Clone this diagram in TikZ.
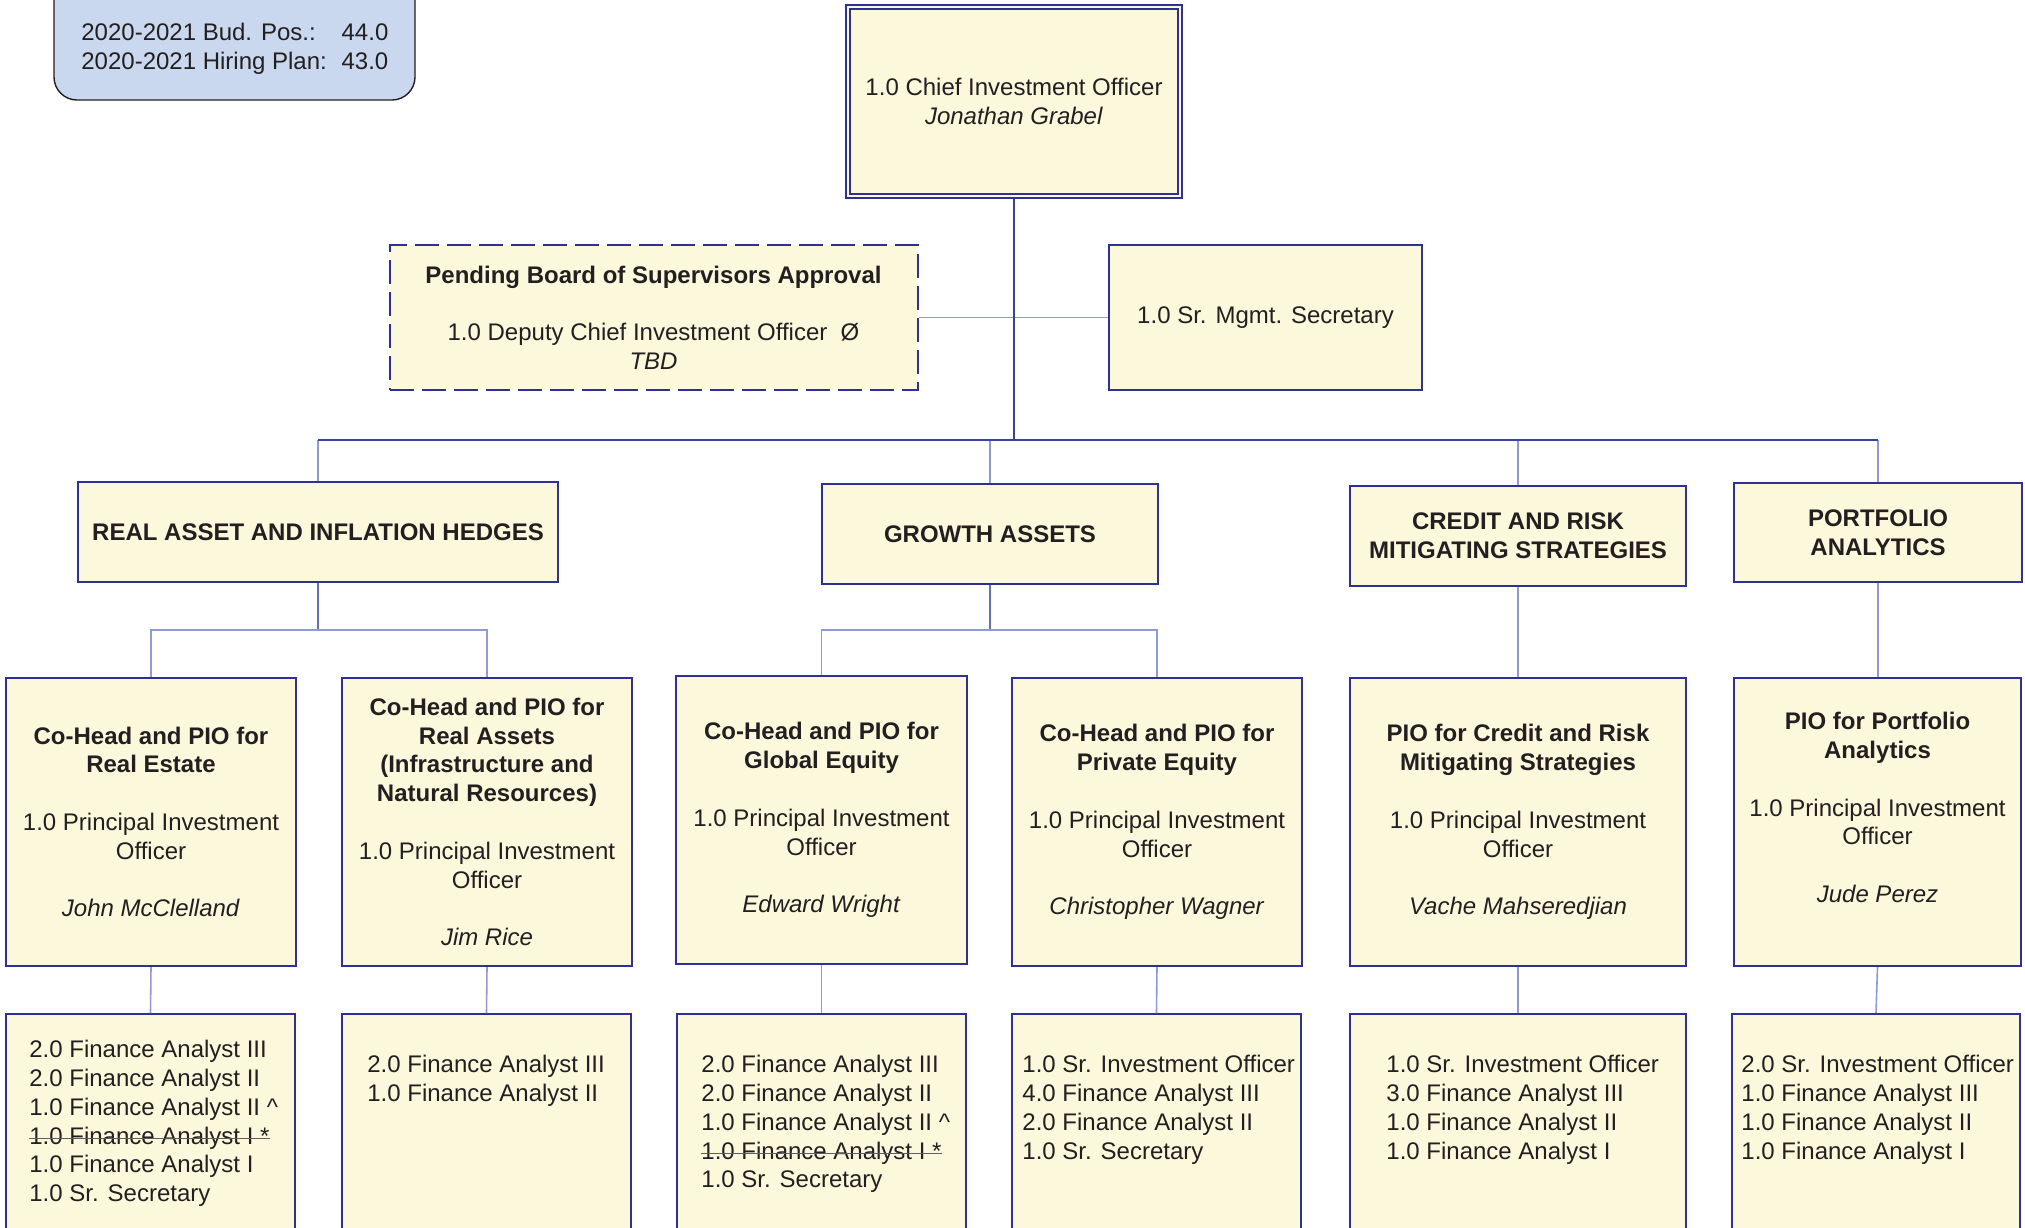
\documentclass[tikz,border=0pt]{standalone}
\usepackage{fontspec}
\setmainfont{Liberation Sans}

\definecolor{boxfill}{HTML}{FCF8DC}
\definecolor{boxline}{HTML}{2E3192}
\definecolor{linkdark}{HTML}{3A42A0}
\definecolor{linkmid}{HTML}{6670B8}
\definecolor{linklight}{HTML}{8E9AD2}
\definecolor{inkcol}{HTML}{231F20}
\definecolor{budfill}{HTML}{C9D8EF}
\definecolor{strkgray}{HTML}{5E5E5E}

% struck-through position line
\newsavebox\strikebox
\newcommand\struck[1]{\sbox\strikebox{#1}\usebox\strikebox\llap{\textcolor{strkgray}{\rule[0.4ex]{\wd\strikebox}{0.7pt}}}}

\tikzset{
  orgbox/.style={draw=boxline, line width=1pt, fill=boxfill, text=inkcol,
    align=center, inner sep=0pt, font=\fontsize{12}{14.4}\selectfont},
  pendingbox/.style={orgbox, dash pattern=on 12pt off 4pt},
  headbox/.style={orgbox, font=\fontsize{12}{14.4}\selectfont\bfseries},
  piobox/.style={orgbox, minimum height=144pt},
  staffbox/.style={orgbox, anchor=north, minimum height=140pt},
  textblock/.style={inner sep=0pt, text=inkcol, font=\fontsize{12}{14.4}\selectfont},
  stafftext/.style={textblock, anchor=base west},
  linkdk/.style={draw=linkdark, line width=0.85pt},
  linkbus/.style={draw=linkdark, line width=0.6pt},
  linkmd/.style={draw=linkmid, line width=0.8pt},
  linklt/.style={draw=linklight, line width=0.8pt},
}

\begin{document}
\begin{tikzpicture}[x=0.5pt, y=-0.5pt]
\useasboundingbox (0,0) rectangle (2025,1227);
\clip (0,0) rectangle (2025,1227);

% position summary
\node[draw=inkcol, line width=0.7pt, fill=budfill, rounded corners=11.5pt,
      minimum width=180.5pt, minimum height=70pt, inner sep=0pt] (budget) at (234.5,30) {};
\node[textblock, anchor=base west] (budtext) at (81,40.6)
  {\begin{tabular*}{153.5pt}[t]{@{}l@{\extracolsep{\fill}}r@{}}
    2020-2021 Bud. Pos.: & 44.0\\
    2020-2021 Hiring Plan: & 43.0
  \end{tabular*}};

% top level
\node[orgbox, minimum width=168pt, minimum height=96.5pt] (cio) at (1014,101.5)
  {1.0 Chief Investment Officer\\\textit{Jonathan Grabel}};
\draw[boxline, line width=0.8pt] ([shift={(2.5pt,-2.5pt)}]cio.north west)
  rectangle ([shift={(-2.5pt,2.5pt)}]cio.south east);

\node[pendingbox, minimum width=264pt, minimum height=72.5pt] (dcio) at (653.5,317.5)
  {\textbf{Pending Board of Supervisors Approval}\\[14.4pt]
   1.0 Deputy Chief Investment Officer\ \ Ø\\\textit{TBD}};
\node[orgbox, minimum width=156.5pt, minimum height=72.5pt] (sec) at (1265.5,317.5)
  {1.0 Sr. Mgmt. Secretary};

% asset classes
\node[headbox, minimum width=240pt, minimum height=50pt] (rai) at (318,532)
  {REAL ASSET AND INFLATION HEDGES};
\node[headbox, minimum width=168pt, minimum height=50pt] (gro) at (990,534)
  {GROWTH ASSETS};
\node[headbox, minimum width=168pt, minimum height=50pt] (crm) at (1518,536)
  {CREDIT AND RISK\\MITIGATING STRATEGIES};
\node[headbox, minimum width=144pt, minimum height=49.5pt] (pfa) at (1878,532.5)
  {PORTFOLIO\\ANALYTICS};

% principal investment officers
\node[piobox, minimum width=145pt] (repio) at (151,822)
  {\textbf{Co-Head and PIO for}\\\textbf{Real Estate}\\[14.4pt]
   1.0 Principal Investment\\Officer\\[14.4pt]\textit{John McClelland}};
\node[piobox, minimum width=145pt] (rapio) at (487,822)
  {\textbf{Co-Head and PIO for}\\\textbf{Real Assets}\\\textbf{(Infrastructure and}\\\textbf{Natural Resources)}\\[14.4pt]
   1.0 Principal Investment\\Officer\\[14.4pt]\textit{Jim Rice}};
\node[piobox, minimum width=145.5pt] (gepio) at (821.5,820)
  {\textbf{Co-Head and PIO for}\\\textbf{Global Equity}\\[14.4pt]
   1.0 Principal Investment\\Officer\\[14.4pt]\textit{Edward Wright}};
\node[piobox, minimum width=145pt] (pepio) at (1157,822)
  {\textbf{Co-Head and PIO for}\\\textbf{Private Equity}\\[14.4pt]
   1.0 Principal Investment\\Officer\\[14.4pt]\textit{Christopher Wagner}};
\node[piobox, minimum width=168pt] (crpio) at (1518,822)
  {\textbf{PIO for Credit and Risk}\\\textbf{Mitigating Strategies}\\[14.4pt]
   1.0 Principal Investment\\Officer\\[14.4pt]\textit{Vache Mahseredjian}};
\node[piobox, minimum width=143.5pt] (papio) at (1877.5,822) {};
\node[textblock, align=center] (papiotext) at (1877.5,807.5)
  {\textbf{PIO for Portfolio}\\\textbf{Analytics}\\[14.4pt]
   1.0 Principal Investment\\Officer\\[14.4pt]\textit{Jude Perez}};

% staff units
\node[staffbox, minimum width=144.5pt] (restaff) at (150.5,1013) {};
\node[staffbox, minimum width=144.5pt] (rastaff) at (486.5,1013) {};
\node[staffbox, minimum width=144.5pt] (gestaff) at (821.5,1013) {};
\node[staffbox, minimum width=144.5pt] (pestaff) at (1156.5,1013) {};
\node[staffbox, minimum width=168pt] (crstaff) at (1518,1013) {};
\node[staffbox, minimum width=144pt] (pastaff) at (1876,1013) {};

\node[stafftext] (restafftext) at (29,1057.6)
  {\begin{tabular}[t]{@{}l@{}}
   2.0 Finance Analyst III\\
   2.0 Finance Analyst II\\
   1.0 Finance Analyst II \textasciicircum\\
   \struck{1.0 Finance Analyst I *}\\
   1.0 Finance Analyst I\\
   1.0 Sr. Secretary
  \end{tabular}};
\node[stafftext] (rastafftext) at (367,1072.6)
  {\begin{tabular}[t]{@{}l@{}}
   2.0 Finance Analyst III\\
   1.0 Finance Analyst II
  \end{tabular}};
\node[stafftext] (gestafftext) at (701,1072.6)
  {\begin{tabular}[t]{@{}l@{}}
   2.0 Finance Analyst III\\
   2.0 Finance Analyst II\\
   1.0 Finance Analyst II \textasciicircum\\
   \struck{1.0 Finance Analyst I *}\\
   1.0 Sr. Secretary
  \end{tabular}};
\node[stafftext] (pestafftext) at (1022,1072.6)
  {\begin{tabular}[t]{@{}l@{}}
   1.0 Sr. Investment Officer\\
   4.0 Finance Analyst III\\
   2.0 Finance Analyst II\\
   1.0 Sr. Secretary
  \end{tabular}};
\node[stafftext] (crstafftext) at (1386,1072.6)
  {\begin{tabular}[t]{@{}l@{}}
   1.0 Sr. Investment Officer\\
   3.0 Finance Analyst III\\
   1.0 Finance Analyst II\\
   1.0 Finance Analyst I
  \end{tabular}};
\node[stafftext] (pastafftext) at (1741,1072.6)
  {\begin{tabular}[t]{@{}l@{}}
   2.0 Sr. Investment Officer\\
   1.0 Finance Analyst III\\
   1.0 Finance Analyst II\\
   1.0 Finance Analyst I
  \end{tabular}};

% branch points
\coordinate (hub) at (1014,440);
\coordinate (raisub) at (318,630);
\coordinate (grosub) at (990,630);

% connectors
\draw[linklt] (dcio.east) -- (sec.west);
\draw[linkdk] (cio.south) -- (hub);
\draw[linklt] (rai.north) -- (rai.north |- hub);
\draw[linklt] (gro.north) -- (gro.north |- hub);
\draw[linklt] (crm.north) -- (crm.north |- hub);
\draw[linklt] (pfa.north) -- (pfa.north |- hub);
\draw[linkbus] (rai.north |- hub) -- (pfa.north |- hub);

\draw[linkmd] (rai.south) -- (raisub);
\draw[linklt] (repio.north) |- (raisub) -| (rapio.north);
\draw[linkmd] (gro.south) -- (grosub);
\draw[linklt] (gepio.north) |- (grosub) -| (pepio.north);
\draw[linklt] (crm.south) -- (crpio.north);
\draw[linklt] (pfa.south) -- (pfa.south |- papio.north);

\draw[linklt] (repio.south) -- (restaff.north);
\draw[linklt] (rapio.south) -- (rastaff.north);
\draw[linklt] (gepio.south) -- (gestaff.north);
\draw[linklt] (pepio.south) -- (pestaff.north);
\draw[linklt] (crpio.south) -- (crstaff.north);
\draw[linklt] (papio.south) -- (pastaff.north);
\end{tikzpicture}
\end{document}
